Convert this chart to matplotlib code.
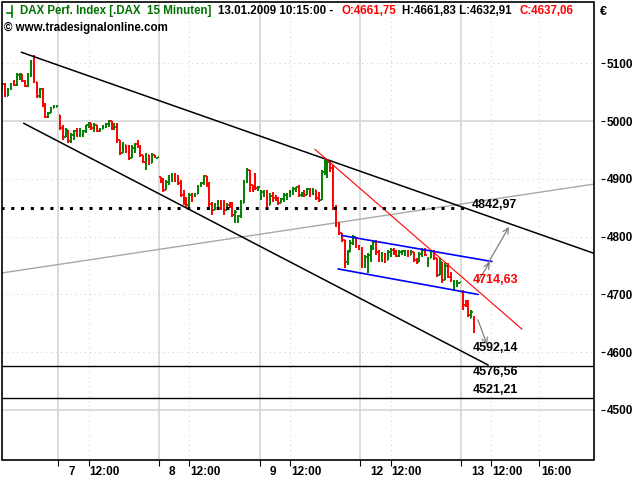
import numpy as np
import matplotlib
matplotlib.use("Agg")
import matplotlib.pyplot as plt
import matplotlib.transforms as mtransforms
from matplotlib.patches import Rectangle
from matplotlib.lines import Line2D

plt.rcParams['font.family'] = ['Liberation Sans', 'DejaVu Sans']

# DAX 15 min bars, 06.01.2009 afternoon .. 13.01.2009 10:15
day_bars = [20, 35, 35, 35, 35, 5]
day_labels = ["7", "8", "9", "12", "13"]

opens = [
    5056, 5064, 5043, 5055, 5064, 5062, 5080, 5081, 5069, 5060, 5081, 5102, 5068, 5043, 5055, 5026, 5007, 5014, 5022, 5024,
    5011, 4988, 4972, 4985, 4966, 4976, 4983, 4976, 4978, 4983, 4993, 4997, 4988, 4993, 4983, 4986, 4991, 4995, 5000, 4988,
    4990, 4967, 4945, 4959, 4946, 4936, 4953, 4960, 4957, 4941, 4929, 4941, 4927, 4941, 4936,
    4903, 4895, 4881, 4895, 4905, 4907, 4898, 4893, 4872, 4858, 4855, 4872, 4870, 4874, 4888, 4893, 4905, 4891, 4857, 4846,
    4857, 4860, 4853, 4846, 4855, 4851, 4837, 4829, 4836, 4858, 4895, 4915, 4889, 4905, 4881,
    4867, 4877, 4879, 4855, 4870, 4867, 4863, 4858, 4865, 4872, 4874, 4879, 4882, 4886, 4872, 4876, 4872, 4882, 4874, 4881,
    4867, 4863, 4912, 4927, 4929, 4919, 4850, 4822, 4806, 4794, 4756, 4773, 4789, 4799, 4784,
    4779, 4751, 4765, 4768, 4782, 4791, 4773, 4763, 4768, 4760, 4773, 4777, 4770, 4767, 4773, 4775, 4776, 4768, 4773, 4760,
    4756, 4770, 4777, 4756, 4763, 4775, 4763, 4733, 4756, 4725, 4749, 4731, 4708, 4720, 4720,
    4704, 4681, 4687, 4659, 4661.75,
]
highs = [
    5066, 5066, 5057, 5066, 5071, 5083, 5083, 5081, 5071, 5083, 5106, 5114, 5068, 5057, 5057, 5031, 5016, 5024, 5028, 5027,
    5011, 4993, 4988, 4985, 4979, 4985, 4988, 4988, 4985, 4993, 4998, 4997, 4997, 4993, 4988, 4993, 4997, 5002, 5000, 4997,
    4997, 4967, 4964, 4959, 4959, 4959, 4962, 4967, 4959, 4941, 4945, 4941, 4945, 4941, 4938,
    4903, 4901, 4898, 4907, 4910, 4910, 4907, 4898, 4881, 4869, 4876, 4876, 4876, 4889, 4895, 4907, 4905, 4895, 4860, 4858,
    4863, 4863, 4863, 4858, 4860, 4860, 4846, 4838, 4863, 4898, 4919, 4915, 4889, 4910, 4888,
    4881, 4881, 4881, 4876, 4877, 4872, 4869, 4867, 4876, 4876, 4881, 4886, 4886, 4889, 4877, 4881, 4884, 4884, 4884, 4881,
    4877, 4915, 4933, 4934, 4933, 4924, 4855, 4825, 4806, 4794, 4777, 4794, 4803, 4799, 4786,
    4782, 4768, 4772, 4786, 4794, 4794, 4777, 4773, 4772, 4777, 4780, 4780, 4777, 4777, 4777, 4777, 4777, 4777, 4773, 4763,
    4773, 4780, 4780, 4765, 4777, 4777, 4763, 4763, 4756, 4754, 4754, 4739, 4725, 4725, 4722,
    4708, 4690, 4690, 4673, 4661.83,
]
lows = [
    5054, 5042, 5043, 5054, 5061, 5061, 5071, 5068, 5059, 5059, 5076, 5066, 5040, 5040, 5024, 5005, 5005, 5014, 5022, 5024,
    4985, 4967, 4972, 4962, 4962, 4967, 4972, 4972, 4972, 4979, 4988, 4985, 4981, 4981, 4981, 4986, 4988, 4990, 4985, 4985,
    4962, 4941, 4945, 4945, 4933, 4936, 4945, 4953, 4938, 4927, 4915, 4924, 4927, 4936, 4936,
    4893, 4877, 4881, 4889, 4895, 4895, 4889, 4869, 4855, 4851, 4851, 4860, 4869, 4874, 4886, 4889, 4886, 4851, 4837, 4846,
    4850, 4846, 4837, 4846, 4850, 4834, 4824, 4824, 4832, 4858, 4893, 4877, 4877, 4881, 4879,
    4863, 4869, 4851, 4855, 4860, 4862, 4855, 4858, 4860, 4863, 4869, 4872, 4877, 4869, 4869, 4869, 4872, 4869, 4872, 4863,
    4860, 4863, 4907, 4901, 4912, 4846, 4817, 4803, 4791, 4746, 4751, 4773, 4786, 4780, 4777,
    4746, 4746, 4737, 4756, 4777, 4768, 4756, 4756, 4754, 4760, 4765, 4768, 4765, 4765, 4768, 4766, 4765, 4768, 4756, 4752,
    4756, 4765, 4766, 4747, 4763, 4760, 4730, 4733, 4720, 4725, 4728, 4721, 4707, 4713, 4719,
    4673, 4678, 4661, 4659, 4632.91,
]
closes = [
    5064, 5043, 5055, 5064, 5062, 5080, 5081, 5069, 5060, 5081, 5102, 5068, 5043, 5055, 5026, 5007, 5014, 5022, 5026, 5026,
    4988, 4972, 4985, 4966, 4976, 4983, 4976, 4985, 4983, 4993, 4997, 4988, 4993, 4983, 4986, 4991, 4995, 5000, 4988, 4990,
    4967, 4945, 4959, 4946, 4936, 4953, 4960, 4957, 4941, 4929, 4941, 4927, 4941, 4938, 4938,
    4895, 4881, 4895, 4905, 4907, 4898, 4893, 4872, 4858, 4855, 4872, 4870, 4874, 4888, 4893, 4905, 4891, 4857, 4846, 4857,
    4860, 4853, 4846, 4855, 4851, 4837, 4843, 4836, 4858, 4895, 4915, 4889, 4881, 4884, 4886,
    4877, 4879, 4855, 4870, 4863, 4863, 4858, 4865, 4872, 4874, 4879, 4882, 4886, 4872, 4876, 4872, 4882, 4874, 4881, 4867,
    4863, 4912, 4927, 4929, 4919, 4850, 4822, 4806, 4794, 4756, 4773, 4789, 4799, 4784, 4779,
    4751, 4765, 4768, 4782, 4791, 4773, 4763, 4768, 4760, 4773, 4777, 4770, 4767, 4773, 4775, 4776, 4768, 4773, 4760, 4756,
    4770, 4777, 4768, 4763, 4775, 4763, 4733, 4756, 4725, 4749, 4731, 4725, 4723, 4722, 4721,
    4677, 4680, 4664, 4670, 4637.06,
]

# drawn tools (bar index, price)
upper_channel = ([6.7, 205.7], [5119, 4771])
lower_channel = ([7.5, 168.8], [4996, 4578])
gray_line = ([-0.3, 205.7], [4737, 4891])
red_line = ([108.7, 180.6], [4951, 4640])
blue_upper = ([118.0, 170.1], [4802, 4757])
blue_lower = ([116.8, 165.3], [4744, 4700])
dotted_level = 4850
hlines_levels = [4576.56, 4521.21]
arrows = [((165.0, 4720), (169.5, 4756)),
          ((168.5, 4751), (176.1, 4817)),
          ((165.3, 4656), (168.5, 4613))]
level_labels = [("4842,97", 163.2, 4854, "black"),
                ("4714,63", 163.4, 4725, "#ff0000"),
                ("4592,14", 163.4, 4607, "black"),
                ("4576,56", 163.4, 4566, "black"),
                ("4521,21", 163.4, 4535, "black")]

W, H = 640, 480
fig = plt.figure(figsize=(6.4, 4.8), dpi=100)
ax_l, ax_r, ax_t, ax_b = 1.6, 594, 1.7, 460
ax = fig.add_axes([ax_l / W, 1 - ax_b / H, (ax_r - ax_l) / W, (ax_b - ax_t) / H])
ax.set_xlim(-0.24, 205.66)
ax.set_ylim(5209.55 - 1.7307 * ax_b, 5209.55 - 1.7307 * ax_t)

# grid
starts = np.cumsum([0] + day_bars)[1:-1]
for s in starts:
    ax.axvline(s - 0.5, color="#d6d6d6", lw=1.2, zorder=0)
    ax.axvline(s + 10, color="#cccccc", lw=0.7, ls=(0, (1, 4)), zorder=0)
x_1600 = starts[-1] + 26.4
ax.axvline(x_1600, color="#cccccc", lw=0.7, ls=(0, (1, 4)), zorder=0)
for lv in [4500, 4600, 4700, 4800, 4900, 5000, 5100]:
    if lv % 500 == 0:
        ax.axhline(lv, color="#d6d6d6", lw=1.2, zorder=0)
    else:
        ax.axhline(lv, color="#cccccc", lw=0.7, ls=(0, (1, 4)), zorder=0)

# bars
x = np.arange(len(closes))
o = np.array(opens); hi = np.array(highs); lo = np.array(lows); c = np.array(closes)
cols = np.where(c >= o, "#008000", "#ff0000")
ax.vlines(x, lo, hi, colors=cols, lw=1.4, zorder=2)
ax.hlines(o, x - 0.45, x, colors=cols, lw=1.3, zorder=2)
ax.hlines(c, x, x + 0.45, colors=cols, lw=1.3, zorder=2)

# trend lines
ax.plot(*gray_line, color="#a8a8a8", lw=1.0, zorder=1)
ax.plot(*upper_channel, color="black", lw=1.1, zorder=3)
ax.plot(*lower_channel, color="black", lw=1.1, zorder=3)
ax.plot(*red_line, color="#ff0000", lw=0.8, zorder=3)
ax.plot(*blue_upper, color="#0000ff", lw=1.2, zorder=3)
ax.plot(*blue_lower, color="#0000ff", lw=1.2, zorder=3)
ax.plot([-0.3, 162.5], [dotted_level, dotted_level], color="black", lw=2.2,
        ls=(0, (1, 2.2)), zorder=3)
for lv in hlines_levels:
    ax.axhline(lv, color="black", lw=1.0, zorder=3)
for (x0, y0), (x1, y1) in arrows:
    ax.annotate("", xy=(x1, y1), xytext=(x0, y0),
                arrowprops=dict(arrowstyle="->", color="#808080", lw=0.9,
                                mutation_scale=10, shrinkA=0, shrinkB=0),
                zorder=3)
for txt, tx, ty, col in level_labels:
    ax.text(tx, ty, txt, color=col, fontsize=9, fontweight="bold",
            ha="left", va="center", zorder=4)

# frame and axes
for sp in ax.spines.values():
    sp.set_visible(False)
ax.spines["right"].set_position(("outward", 5))
ax.add_patch(Rectangle((0, 0), 1, 1, transform=ax.transAxes, fill=False,
                       edgecolor="black", lw=1.2, clip_on=False, zorder=10))
ax.yaxis.tick_right()
ax.set_yticks([4500, 4600, 4700, 4800, 4900, 5000, 5100])
ax.tick_params(axis="y", direction="out", length=3, width=0.8, pad=1,
               labelsize=8.5)
for lab in ax.get_yticklabels():
    lab.set_fontweight("bold")

xt = []
for s in starts:
    xt += [s - 0.5, s + 10]
xt.append(x_1600)
ax.set_xticks(xt)
ax.set_xticklabels([])
ax.tick_params(axis="x", direction="out", length=4, width=0.8)
blend = mtransforms.blended_transform_factory(ax.transData, ax.transAxes)
for s, lab in zip(starts, day_labels):
    tr = mtransforms.offset_copy(blend, fig=fig, x=10, y=-6, units="dots")
    ax.text(s - 0.5, 0, lab, transform=tr, ha="left", va="top",
            fontsize=8.5, fontweight="bold")
    tr2 = mtransforms.offset_copy(blend, fig=fig, x=1, y=-6, units="dots")
    ax.text(s + 10, 0, "12:00", transform=tr2, ha="left", va="top",
            fontsize=8.5, fontweight="bold")
tr3 = mtransforms.offset_copy(blend, fig=fig, x=3, y=-6, units="dots")
ax.text(x_1600, 0, "16:00", transform=tr3, ha="left", va="top",
        fontsize=8.5, fontweight="bold")

# header
def ftext(px, py, s, color="black", size=8.3):
    fig.text(px / W, 1 - py / H, s, color=color, fontsize=size,
             fontweight="bold", ha="left", va="center")

fig.add_artist(Line2D([12 / W, 12 / W], [1 - 6 / H, 1 - 17 / H], color="#008000", lw=1.2))
fig.add_artist(Line2D([7 / W, 12 / W], [1 - 13 / H, 1 - 13 / H], color="#008000", lw=1.2))
ftext(20, 11, "DAX Perf. Index [.DAX  15 Minuten]", color="#007000")
ftext(218, 11, "13.01.2009 10:15:00 -")
ftext(342, 11, "O:4661,75", color="#ff0000")
ftext(402, 11, "H:4661,83 L:4632,91")
ftext(520, 11, "C:4637,06", color="#ff0000")
ftext(4, 28, "\u00a9 www.tradesignalonline.com")
ftext(600, 12, "\u20ac", size=9)

fig.savefig("out.png", dpi=100)
